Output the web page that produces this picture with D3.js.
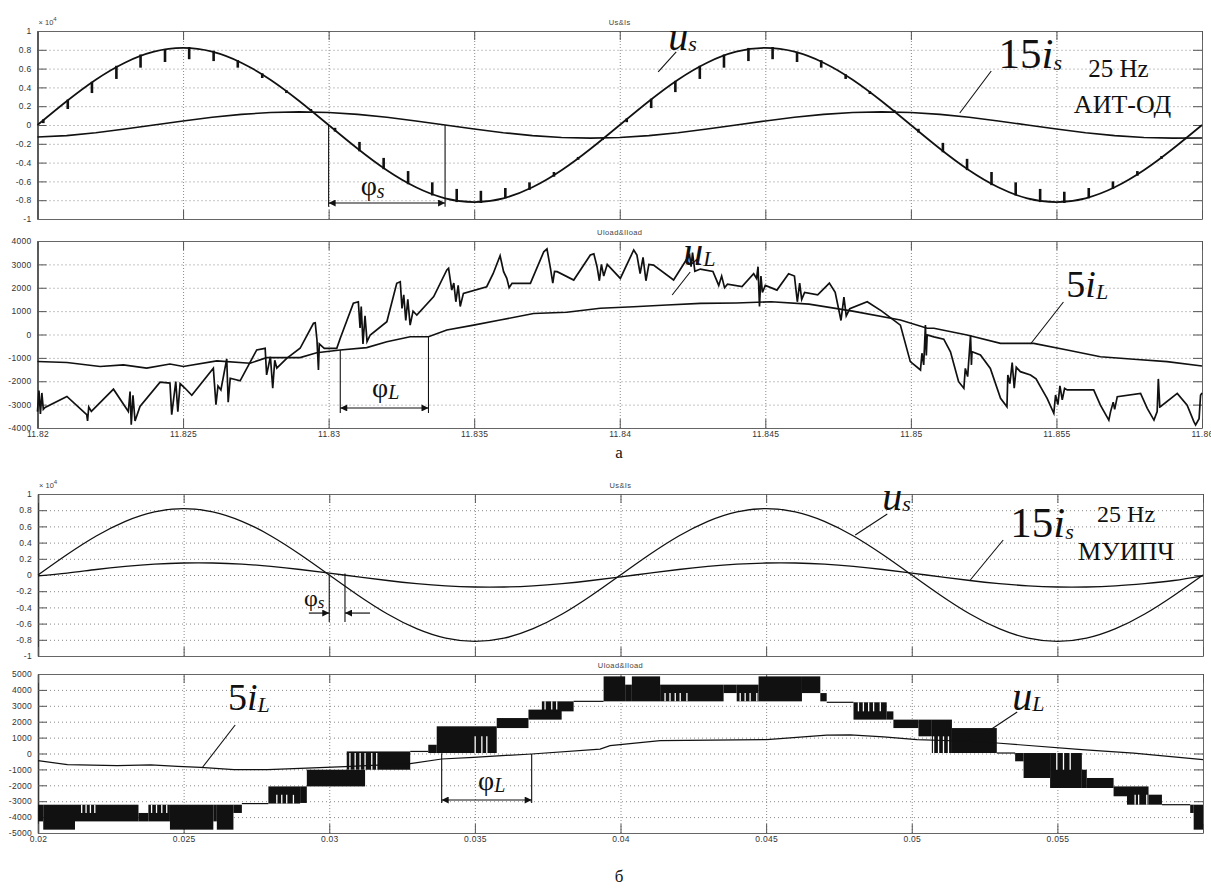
<!DOCTYPE html>
<html><head><meta charset="utf-8">
<script src="https://cdn.jsdelivr.net/npm/d3@7/dist/d3.min.js"></script>
<style>
body{margin:0;background:#fff}
.tick text{font-family:Arial,Helvetica,sans-serif;font-size:8.5px;fill:#333;letter-spacing:0.3px}
.ann{font-family:"Liberation Serif","Times New Roman",serif;fill:#111}
</style></head>
<body><svg id="c" width="1211" height="888"></svg>
<script>
// ---------------- DATA ----------------
const xTicksA = [11.82,11.825,11.83,11.835,11.84,11.845,11.85,11.855,11.86];
const xLabelsA = ['11.82','11.825','11.83','11.835','11.84','11.845','11.85','11.855','11.86'];
const xTicksB = [0.02,0.025,0.03,0.035,0.04,0.045,0.05,0.055,0.06];
const xLabelsB = ['0.02','0.025','0.03','0.035','0.04','0.045','0.05','0.055',''];
const yTicksS = [-1,-0.8,-0.6,-0.4,-0.2,0,0.2,0.4,0.6,0.8,1];
const yLabelsS = ['-1','-0.8','-0.6','-0.4','-0.2','0','0.2','0.4','0.6','0.8','1'];
const yTicksLa = [-4000,-3000,-2000,-1000,0,1000,2000,3000,4000];
const yLabelsLa = ['-4000','-3000','-2000','-1000','0','1000','2000','3000','4000'];
const yTicksLb = [-5000,-4000,-3000,-2000,-1000,0,1000,2000,3000,4000,5000];
const yLabelsLb = ['-5000','-4000','-3000','-2000','-1000','0','1000','2000','3000','4000','5000'];

// panel a (АИТ-ОД), Us&Is, x10^4, sampled every 1 ms from 11.82 s
const usA = [0,0.253,0.482,0.663,0.780,0.820,0.780,0.663,0.482,0.253,0,-0.253,-0.482,-0.663,-0.780,-0.820,-0.780,-0.663,-0.482,-0.253,0,0.253,0.482,0.663,0.780,0.820,0.780,0.663,0.482,0.253,0,-0.253,-0.482,-0.663,-0.780,-0.820,-0.780,-0.663,-0.482,-0.253,0];
const isA = [-0.128,-0.113,-0.082,-0.043,0,0.043,0.082,0.113,0.133,0.14,0.133,0.113,0.082,0.043,0,-0.043,-0.082,-0.113,-0.133,-0.14,-0.133,-0.113,-0.082,-0.043,0,0.043,0.082,0.113,0.133,0.14,0.133,0.113,0.082,0.043,0,-0.043,-0.082,-0.113,-0.133,-0.14,-0.138];
// commutation notches on us: [t, from, to]
const notchA = [[11.8202,0.06,0.02],[11.82104,0.27,0.17],[11.82187,0.46,0.34],[11.82271,0.63,0.49],[11.82354,0.75,0.61],[11.82438,0.81,0.67],[11.82521,0.83,0.70],[11.82605,0.79,0.68],[11.82688,0.69,0.61],[11.82772,0.55,0.50],[11.82855,0.37,0.34],[11.82939,0.17,0.15],
[11.83022,-0.07,-0.03],[11.83106,-0.28,-0.18],[11.83189,-0.47,-0.35],[11.83273,-0.63,-0.49],[11.83356,-0.75,-0.61],[11.8344,-0.82,-0.68],[11.83523,-0.83,-0.70],[11.83607,-0.78,-0.67],[11.8369,-0.69,-0.61],[11.83774,-0.55,-0.50],[11.83857,-0.37,-0.34],[11.83941,-0.16,-0.14],
[11.84024,0.07,0.03],[11.84108,0.28,0.18],[11.84191,0.47,0.35],[11.84275,0.63,0.49],[11.84358,0.75,0.61],[11.84442,0.82,0.68],[11.84525,0.83,0.70],[11.84609,0.78,0.67],[11.84692,0.69,0.61],[11.84776,0.54,0.49],[11.84859,0.36,0.33],[11.84943,0.16,0.14],
[11.85026,-0.08,-0.04],[11.8511,-0.29,-0.19],[11.85193,-0.48,-0.36],[11.85277,-0.64,-0.50],[11.8536,-0.75,-0.61],[11.85444,-0.82,-0.68],[11.85527,-0.83,-0.71],[11.85611,-0.78,-0.67],[11.85694,-0.68,-0.60],[11.85778,-0.54,-0.49],[11.85861,-0.36,-0.33],[11.85945,-0.15,-0.13]];

// panel a, Uload&Iload
const uLA = [[11.82,-3300],[11.82005,-2400],[11.8201,-3400],[11.82015,-2500],[11.8202,-3200],[11.82026,-3120],[11.82101,-2650],[11.82169,-3430],[11.82172,-3700],[11.82176,-3100],[11.82185,-3290],[11.82261,-2340],[11.82312,-3290],[11.82318,-2440],[11.82322,-3860],[11.82328,-2600],[11.82335,-3700],[11.82352,-3080],[11.82421,-2040],[11.82455,-2080],[11.82461,-3430],[11.82475,-2010],[11.82482,-3300],[11.8249,-2100],[11.82507,-2300],[11.8253,-2600],[11.82604,-1440],[11.82613,-3000],[11.8262,-2200],[11.8263,-2370],[11.8265,-1040],[11.82655,-2900],[11.82662,-1870],[11.82696,-1980],[11.82753,-660],[11.82782,-590],[11.82787,-1730],[11.828,-950],[11.82808,-2300],[11.82815,-1100],[11.82822,-1440],[11.82856,-1020],
[11.82902,-590],[11.82948,479],[11.82954,500],[11.8296,-235],[11.82965,-1520],[11.82968,-400],[11.82985,-590],[11.83028,-590],[11.8304,-160],[11.83085,1335],[11.83102,1400],[11.83108,280],[11.83112,1200],[11.83118,-400],[11.83125,800],[11.83132,-300],[11.83143,-20],[11.832,550],[11.83234,2190],[11.83246,2260],[11.83252,1120],[11.83258,1700],[11.83265,600],[11.83272,1500],[11.8328,400],[11.8329,1000],[11.83303,835],[11.83361,1620],[11.83406,2760],[11.83412,2830],[11.83423,1900],[11.8343,2200],[11.83437,1400],[11.83445,2100],[11.83452,1200],[11.83463,1760],[11.83543,2045],[11.83565,2600],[11.83589,3370],[11.83601,2690],[11.83612,2400],[11.8362,2000],[11.8363,2190],[11.83693,2190],[11.83739,3540],[11.8375,3660],[11.83762,2830],[11.8377,2200],[11.83776,2700],[11.83785,2690],[11.83842,2330],[11.83899,3400],[11.83911,3450],[11.83922,2900],[11.8393,2300],[11.83937,3000],[11.83945,2500],[11.83957,3000],[11.84002,2400],[11.84048,3615],[11.84059,3400],[11.8407,2600],[11.8408,3300],[11.8409,2300],[11.841,3000],[11.84116,2970],[11.84185,2330],[11.84231,3240],[11.8424,3400],[11.84245,2900],[11.8425,3500],[11.84258,2700],[11.84277,2800],
[11.8432,2700],[11.8433,2400],[11.8434,2100],[11.8435,2500],[11.8436,2000],[11.8437,2150],[11.8442,2050],[11.8446,2600],[11.8447,2400],[11.84475,2900],[11.8448,1200],[11.84485,2500],[11.8449,1800],[11.845,2100],[11.8454,1900],[11.8458,2600],[11.846,2500],[11.8461,1400],[11.84618,2200],[11.84625,1500],[11.84635,1800],[11.8468,1700],[11.8472,2200],[11.8474,1800],[11.8476,600],[11.8477,1600],[11.84778,800],[11.8479,1100],[11.8485,1400],[11.849,1000],[11.84964,400],
[11.84998,-1160],[11.85033,-1520],[11.85038,-800],[11.85044,-1300],[11.8505,406],[11.85053,-900],[11.85056,-20],[11.85079,-100],[11.85113,-200],[11.85136,-740],[11.85164,-2020],[11.85182,-2300],[11.85187,-1450],[11.85195,-1800],[11.85205,-20],[11.85208,-1300],[11.8521,-740],[11.85239,-880],[11.85273,-1450],[11.85308,-2730],[11.8533,-3090],[11.85333,-1730],[11.8534,-2100],[11.85348,-1200],[11.85355,-2300],[11.85362,-1400],[11.85376,-1590],[11.85411,-1730],[11.8543,-1900],[11.85445,-2230],[11.85468,-2730],[11.85491,-3370],[11.85497,-2590],[11.85505,-3000],[11.85512,-2200],[11.8552,-2800],[11.85528,-2300],[11.85537,-2370],[11.85628,-2370],[11.85651,-3020],[11.8568,-3660],[11.85686,-3300],[11.85695,-2900],[11.857,-3200],[11.85709,-2660],[11.85789,-2520],[11.85812,-3160],[11.85835,-3660],[11.85846,-3300],[11.8585,-1900],[11.85855,-3100],[11.85857,-3090],[11.85915,-2520],[11.85949,-3020],[11.85972,-3730],[11.85978,-3870],[11.8599,-3600],[11.85995,-2600],[11.86,-2500]];
const iLA = [[11.82,-1158],[11.82101,-1200],[11.82215,-1370],[11.82295,-1300],[11.82375,-1440],[11.82455,-1260],[11.82501,-1370],[11.82616,-1130],[11.8273,-1230],[11.82787,-990],[11.82902,-990],[11.82959,-780],[11.8304,-660],[11.83131,-560],[11.832,-310],[11.8328,-95],[11.83343,-95],[11.83406,190],[11.83498,400],[11.83589,620],[11.83704,900],[11.83818,950],[11.83933,1120],[11.84048,1190],[11.84162,1260],[11.84277,1330],[11.844,1350],[11.8452,1400],[11.8465,1300],[11.848,1000],[11.84964,620],[11.85056,265],[11.85079,265],[11.85193,-20],[11.85308,-380],[11.85422,-380],[11.85537,-660],[11.85651,-950],[11.85766,-1060],[11.8588,-1160],[11.86,-1350]];

// panel б (МУИПЧ), Us&Is, x10^4, sampled every 1 ms from 0.02 s
const usB = [0,0.253,0.482,0.663,0.780,0.820,0.780,0.663,0.482,0.253,0,-0.253,-0.482,-0.663,-0.780,-0.820,-0.780,-0.663,-0.482,-0.253,0,0.253,0.482,0.663,0.780,0.820,0.780,0.663,0.482,0.253,0,-0.253,-0.482,-0.663,-0.780,-0.820,-0.780,-0.663,-0.482,-0.253,0];
const isB = [-0.01,0.023,0.068,0.106,0.134,0.148,0.148,0.134,0.106,0.068,0.023,-0.023,-0.068,-0.106,-0.134,-0.148,-0.148,-0.134,-0.106,-0.068,-0.023,0.023,0.068,0.106,0.134,0.148,0.148,0.134,0.106,0.068,0.023,-0.023,-0.068,-0.106,-0.134,-0.148,-0.148,-0.134,-0.106,-0.068,-0.01];

// panel б, Uload: PWM bands [t0, t1, upper level, lower level]
const bandsB = [[0.02,0.02018,-3220,-4270],[0.02018,0.02127,-3220,-4790],[0.02127,0.02345,-3220,-4270],[0.02345,0.02379,-3740,-4270],[0.02379,0.02453,-3220,-4270],[0.02453,0.02602,-3220,-4790],[0.02602,0.02614,-3220,-4270],[0.02614,0.02671,-3220,-4790],[0.02671,0.027,-3220,-3740],
[0.02791,0.029,-2070,-3150],[0.029,0.02923,-2070,-3110],[0.02923,0.03123,-1020,-2070],[0.0306,0.03278,130,-1020],[0.0334,0.03369,550,30],[0.03369,0.03575,1710,30],[0.03575,0.03684,2230,1600],[0.03684,0.03798,2760,2130],[0.0373,0.03839,3280,2650],
[0.03942,0.04016,4850,3280],[0.04016,0.04039,4330,3280],[0.04039,0.04136,4850,3280],[0.04136,0.04354,4330,3280],[0.04354,0.04399,4330,3800],[0.04399,0.04474,4330,3280],[0.04474,0.04623,4850,3280],[0.04623,0.04686,4850,3800],[0.04686,0.04708,3800,3280],
[0.048,0.04914,3220,2130],[0.04914,0.04937,2650,2130],[0.04937,0.05023,2130,1600],[0.05023,0.05069,2130,1080],[0.05069,0.05138,2130,30],[0.05138,0.05292,1600,30],
[0.05355,0.05384,30,-490],[0.05384,0.05475,30,-1540],[0.05475,0.05584,30,-2170],[0.05584,0.05601,-1020,-2170],[0.05601,0.05693,-1540,-2170],[0.05693,0.05739,-2070,-2690],[0.05739,0.05813,-2070,-3220],[0.05813,0.05859,-2590,-3220],[0.05956,0.05968,-3220,-3740],[0.05968,0.06,-3220,-4790]];
// single-level intervals [t0, t1, level]
const flatsB = [[0.027,0.02791,-3150],[0.03278,0.0334,130],[0.03839,0.03942,3280],[0.04708,0.048,3220],[0.05292,0.05355,30],[0.05859,0.05956,-3220]];
// gaps inside bands [t, upper, lower]
const gapsB = [[0.0215,-3220,-3740],[0.02165,-3220,-3740],[0.0218,-3220,-3740],[0.02195,-3220,-3740],[0.0239,-3220,-3740],[0.02407,-3220,-3740],[0.02425,-3220,-3740],[0.02442,-3220,-3740],
[0.0282,-2600,-3150],[0.02837,-2600,-3150],[0.02854,-2600,-3150],[0.02877,-2600,-3150],
[0.03071,30,-1020],[0.03089,30,-1020],[0.03106,30,-1020],[0.03123,30,-1020],[0.03146,30,-1020],[0.03163,30,-1020],
[0.03501,1080,30],[0.03524,1080,30],[0.03541,1080,30],[0.03741,3280,2760],[0.03764,3280,2760],[0.03781,3280,2760],
[0.04153,3800,3280],[0.0417,3800,3280],[0.04188,3800,3280],[0.04205,3800,3280],[0.04228,3800,3280],[0.04411,3800,3280],[0.04428,3800,3280],[0.04445,3800,3280],[0.04468,3800,3280],
[0.04817,3220,2650],[0.04834,3220,2650],[0.04852,3220,2650],[0.04869,3220,2650],[0.04892,3220,2650],
[0.05075,1080,30],[0.05092,1080,30],[0.05109,1080,30],[0.05126,1080,30],
[0.05498,30,-1020],[0.05521,30,-1020],[0.05544,30,-1020],[0.05767,-2590,-3220],[0.05779,-2590,-3220],[0.05807,-2590,-3220]];
const iLB = [[0.02,-450],[0.02101,-700],[0.02272,-765],[0.02387,-720],[0.02479,-810],[0.02559,-870],[0.02673,-1020],[0.02788,-1020],[0.029,-932],[0.03054,-830],[0.03278,-640],[0.03386,-345],[0.03495,-240],[0.03695,-30],[0.0393,280],[0.03964,490],[0.04136,810],[0.04502,870],[0.04708,1150],[0.04789,1170],[0.04903,1040],[0.05018,870],[0.05189,770],[0.05292,660],[0.05584,240],[0.05762,20],[0.06,-390]];

// annotation texts
const annA1 = {us:'u', usSub:'s', is:'15', isI:'i', isSub:'s', f1:'25 Hz', f2:'АИТ-ОД', phi:'φ', phiSub:'s'};
const annA2 = {u:'u', uSub:'L', i:'5', iI:'i', iSub:'L', phi:'φ', phiSub:'L'};
const annB1 = {us:'u', usSub:'s', is:'15', isI:'i', isSub:'s', f1:'25 Hz', f2:'МУИПЧ', phi:'φ', phiSub:'s'};
const annB2 = {u:'u', uSub:'L', i:'5', iI:'i', iSub:'L', phi:'φ', phiSub:'L'};
const captions = ['а','б'];
const titles = ['Us&Is','Uload&Iload'];

// ---------------- DRAWING ----------------
const svg = d3.select('#c');
const defs = svg.append('defs');
defs.append('marker').attr('id','ah').attr('viewBox','0 0 10 10').attr('refX',10).attr('refY',5)
  .attr('markerWidth',9).attr('markerHeight',7).attr('markerUnits','userSpaceOnUse')
  .attr('orient','auto-start-reverse').append('path').attr('d','M0,0L10,5L0,10z').attr('fill','#111');

function panel(box, xDom, yDom, yTicks, yLabels, xTicks, xLabels, title, exp){
  const x = d3.scaleLinear().domain(xDom).range([box.x0, box.x1]);
  const y = d3.scaleLinear().domain(yDom).range([box.y1, box.y0]);
  const g = svg.append('g');
  const w = box.x1-box.x0, h = box.y1-box.y0;
  g.append('g').attr('transform',`translate(${box.x0},0)`)
    .call(d3.axisLeft(y).tickValues(yTicks.slice(1,-1)).tickSize(-w).tickFormat(''))
    .call(s=>{s.select('.domain').remove(); s.selectAll('line').attr('stroke','#8a8a8a').attr('stroke-dasharray','1,3');});
  g.append('g').attr('transform',`translate(0,${box.y1})`)
    .call(d3.axisBottom(x).tickValues(xTicks.slice(1,-1)).tickSize(-h).tickFormat(''))
    .call(s=>{s.select('.domain').remove(); s.selectAll('line').attr('stroke','#8a8a8a').attr('stroke-dasharray','1,2');});
  const styleAx = s=>{s.select('.domain').attr('stroke','#666'); s.selectAll('.tick line').attr('stroke','#555');};
  g.append('g').attr('transform',`translate(${box.x0},0)`)
    .call(d3.axisLeft(y).tickValues(yTicks).tickSize(-9).tickSizeOuter(0).tickPadding(6).tickFormat((d,i)=>yLabels[i]))
    .call(styleAx).call(s=>s.select('.domain').attr('stroke','#333').attr('stroke-width',1.6));
  g.append('g').attr('transform',`translate(${box.x1},0)`)
    .call(d3.axisRight(y).tickValues(yTicks).tickSize(-9).tickSizeOuter(0).tickFormat('')).call(styleAx);
  g.append('g').attr('transform',`translate(0,${box.y0})`)
    .call(d3.axisTop(x).tickValues(xTicks).tickSize(-9).tickSizeOuter(0).tickFormat('')).call(styleAx);
  g.append('g').attr('transform',`translate(0,${box.y1})`)
    .call(d3.axisBottom(x).tickValues(xTicks).tickSize(-9).tickSizeOuter(0).tickPadding(3)
      .tickFormat(xLabels ? (d,i)=>xLabels[i] : ''))
    .call(styleAx);
  g.selectAll('.tick text').attr('stroke','none');
  g.append('text').attr('x',(box.x0+box.x1)/2).attr('y',box.y0-6).attr('text-anchor','middle')
    .attr('font-family','Arial,Helvetica,sans-serif').attr('font-size',7.5).attr('fill','#444').attr('letter-spacing',0.4).text(title);
  if(exp){
    const t = g.append('text').attr('x',box.x0+1).attr('y',box.y0-6).attr('font-family','Arial,Helvetica,sans-serif').attr('font-size',7.5).attr('fill','#444');
    t.append('tspan').text('× 10');
    t.append('tspan').attr('dy',-4).attr('font-size',6).text('4');
  }
  const plot = g.append('g');
  return {x,y,g:plot};
}

function richText(g, x, y, parts, anchor){
  const t = g.append('text').attr('class','ann').attr('x',x).attr('y',y).attr('text-anchor',anchor||'start');
  parts.forEach(p=>{
    const s = t.append('tspan').text(p.t).attr('font-size',p.size);
    if(p.it) s.attr('font-style','italic');
    if(p.dy) s.attr('dy',p.dy);
    if(p.dx) s.attr('dx',p.dx);
  });
  return t;
}
function leader(P, a, b){
  P.g.append('line').attr('x1',P.x(a[0])).attr('y1',P.y(a[1])).attr('x2',P.x(b[0])).attr('y2',P.y(b[1]))
    .attr('stroke','#111').attr('stroke-width',1.1);
}
function vline(P, t, v1, v2, sw){
  P.g.append('line').attr('x1',P.x(t)).attr('x2',P.x(t)).attr('y1',P.y(v1)).attr('y2',P.y(v2)).attr('stroke','#111').attr('stroke-width',sw||1.1);
}
function arrow(P, t1, t2, v, both){
  const l = P.g.append('line').attr('x1',P.x(t1)).attr('x2',P.x(t2)).attr('y1',P.y(v)).attr('y2',P.y(v))
    .attr('stroke','#111').attr('stroke-width',1.2).attr('marker-end','url(#ah)');
  if(both) l.attr('marker-start','url(#ah)');
}

const boxes = [{x0:37.5,x1:1202,y0:31,y1:219},{x0:37.5,x1:1202,y0:241,y1:428},{x0:38,x1:1203,y0:494,y1:656},{x0:38,x1:1203,y0:674,y1:833}];
const tGridA = d3.range(usA.length).map(k=>11.82+k*0.001);
const tGridB = d3.range(usB.length).map(k=>0.02+k*0.001);
const lineS = (P,curve)=>d3.line().x(d=>P.x(d[0])).y(d=>P.y(d[1])).curve(curve||d3.curveLinear);

// ---- Panel 1 ----
const P1 = panel(boxes[0],[11.82,11.86],[-1,1],yTicksS,yLabelsS,xTicksA,null,titles[0],true);
P1.g.append('path').datum(tGridA.map((t,i)=>[t,usA[i]])).attr('d',lineS(P1,d3.curveNatural)).attr('fill','none').attr('stroke','#111').attr('stroke-width',1.7);
P1.g.append('path').datum(tGridA.map((t,i)=>[t,isA[i]])).attr('d',lineS(P1)).attr('fill','none').attr('stroke','#111').attr('stroke-width',1.6);
P1.g.selectAll('.notch').data(notchA).join('line').attr('x1',d=>P1.x(d[0])).attr('x2',d=>P1.x(d[0]))
  .attr('y1',d=>P1.y(d[1])).attr('y2',d=>P1.y(d[2])).attr('stroke','#111').attr('stroke-width',2.6);
vline(P1,11.83,0,-0.87); vline(P1,11.834,0,-0.87);
arrow(P1,11.83,11.834,-0.83,true);
richText(P1.g,P1.x(11.8311),P1.y(-0.745),[{t:annA1.phi,size:28},{t:annA1.phiSub,size:20,it:true,dy:3}]);
richText(P1.g,P1.x(11.84167),P1.y(0.80),[{t:annA1.us,size:40,it:true},{t:annA1.usSub,size:22,it:true,dy:1}]);
leader(P1,[11.84194,0.777],[11.84132,0.564]);
richText(P1.g,P1.x(11.85301),P1.y(0.606),[{t:annA1.is,size:43},{t:annA1.isI,size:43,it:true},{t:annA1.isSub,size:22,it:true,dy:2}]);
leader(P1,[11.85276,0.574],[11.85168,0.128]);
richText(P1.g,P1.x(11.85713),P1.y(0.51),[{t:annA1.f1,size:25}],'middle');
richText(P1.g,P1.x(11.85727),P1.y(0.128),[{t:annA1.f2,size:26}],'middle');

// ---- Panel 2 ----
const P2 = panel(boxes[1],[11.82,11.86],[-4000,4000],yTicksLa,yLabelsLa,xTicksA,xLabelsA,titles[1],false);
P2.g.append('path').datum(iLA).attr('d',lineS(P2)).attr('fill','none').attr('stroke','#111').attr('stroke-width',1.6);
P2.g.append('path').datum(uLA).attr('d',lineS(P2)).attr('fill','none').attr('stroke','#111').attr('stroke-width',1.7);
vline(P2,11.8304,-660,-3358); vline(P2,11.83343,-95,-3358);
arrow(P2,11.8304,11.83343,-3144,true);
richText(P2.g,P2.x(11.83149),P2.y(-2674),[{t:annA2.phi,size:28},{t:annA2.phiSub,size:20,it:true,dy:2}]);
richText(P2.g,P2.x(11.84218),P2.y(2960),[{t:annA2.u,size:40,it:true},{t:annA2.uSub,size:22,it:true,dy:1}]);
leader(P2,[11.84242,2674],[11.8418,1690]);
richText(P2.g,P2.x(11.85534),P2.y(1604),[{t:annA2.i,size:38},{t:annA2.iI,size:38,it:true},{t:annA2.iSub,size:22,it:true,dy:2}]);
leader(P2,[11.85524,1390],[11.85411,-406]);

svg.append('text').attr('class','ann').attr('x',619).attr('y',458).attr('text-anchor','middle').attr('font-size',17).text(captions[0]);

// ---- Panel 3 ----
const P3 = panel(boxes[2],[0.02,0.06],[-1,1],yTicksS,yLabelsS,xTicksB,null,titles[0],true);
P3.g.append('path').datum(tGridB.map((t,i)=>[t,usB[i]])).attr('d',lineS(P3,d3.curveNatural)).attr('fill','none').attr('stroke','#111').attr('stroke-width',1.3);
P3.g.append('path').datum(tGridB.map((t,i)=>[t,isB[i]])).attr('d',lineS(P3,d3.curveNatural)).attr('fill','none').attr('stroke','#111').attr('stroke-width',1.3);
vline(P3,0.030,0,-0.58); vline(P3,0.03054,0.02,-0.58);
arrow(P3,0.0293,0.030,-0.47,false); arrow(P3,0.0314,0.03054,-0.47,false);
richText(P3.g,P3.x(0.02913),P3.y(-0.383),[{t:annB1.phi,size:24},{t:annB1.phiSub,size:17,it:true,dy:2}]);
richText(P3.g,P3.x(0.04899),P3.y(0.802),[{t:annB1.us,size:40,it:true},{t:annB1.usSub,size:22,it:true,dy:1}]);
leader(P3,[0.04916,0.753],[0.04806,0.494]);
richText(P3.g,P3.x(0.05338),P3.y(0.469),[{t:annB1.is,size:43},{t:annB1.isI,size:43,it:true},{t:annB1.isSub,size:22,it:true,dy:2}]);
leader(P3,[0.05314,0.432],[0.05201,-0.062]);
richText(P3.g,P3.x(0.05736),P3.y(0.654),[{t:annB1.f1,size:24}],'middle');
richText(P3.g,P3.x(0.05736),P3.y(0.185),[{t:annB1.f2,size:26}],'middle');

// ---- Panel 4 ----
const P4 = panel(boxes[3],[0.02,0.06],[-5000,5000],yTicksLb,yLabelsLb,xTicksB,xLabelsB,titles[1],false);
P4.g.selectAll('.band').data(bandsB).join('rect').attr('x',d=>P4.x(d[0])).attr('width',d=>P4.x(d[1])-P4.x(d[0]))
  .attr('y',d=>P4.y(d[2])).attr('height',d=>P4.y(d[3])-P4.y(d[2])).attr('fill','#111');
P4.g.selectAll('.flat').data(flatsB).join('line').attr('x1',d=>P4.x(d[0])).attr('x2',d=>P4.x(d[1]))
  .attr('y1',d=>P4.y(d[2])).attr('y2',d=>P4.y(d[2])).attr('stroke','#111').attr('stroke-width',1.2);
P4.g.selectAll('.gap').data(gapsB).join('line').attr('x1',d=>P4.x(d[0])).attr('x2',d=>P4.x(d[0]))
  .attr('y1',d=>P4.y(d[1])).attr('y2',d=>P4.y(d[2])).attr('stroke','#fff').attr('stroke-width',1.3);
P4.g.append('path').datum(iLB).attr('d',lineS(P4)).attr('fill','none').attr('stroke','#111').attr('stroke-width',1.2);
vline(P4,0.03386,20,-3114); vline(P4,0.03695,-30,-3114);
arrow(P4,0.03386,0.03695,-2925,true);
richText(P4.g,P4.x(0.03511),P4.y(-2296),[{t:annB2.phi,size:28},{t:annB2.phiSub,size:20,it:true,dy:2}]);
richText(P4.g,P4.x(0.02652),P4.y(2736),[{t:annB2.i,size:38},{t:annB2.iI,size:38,it:true},{t:annB2.iSub,size:22,it:true,dy:2}]);
leader(P4,[0.02677,1792],[0.02563,-913]);
richText(P4.g,P4.x(0.05345),P4.y(2736),[{t:annB2.u,size:40,it:true},{t:annB2.uSub,size:22,it:true,dy:1}]);
leader(P4,[0.05362,2610],[0.05269,1478]);

svg.append('text').attr('class','ann').attr('x',619).attr('y',882).attr('text-anchor','middle').attr('font-size',17).text(captions[1]);
</script></body></html>
